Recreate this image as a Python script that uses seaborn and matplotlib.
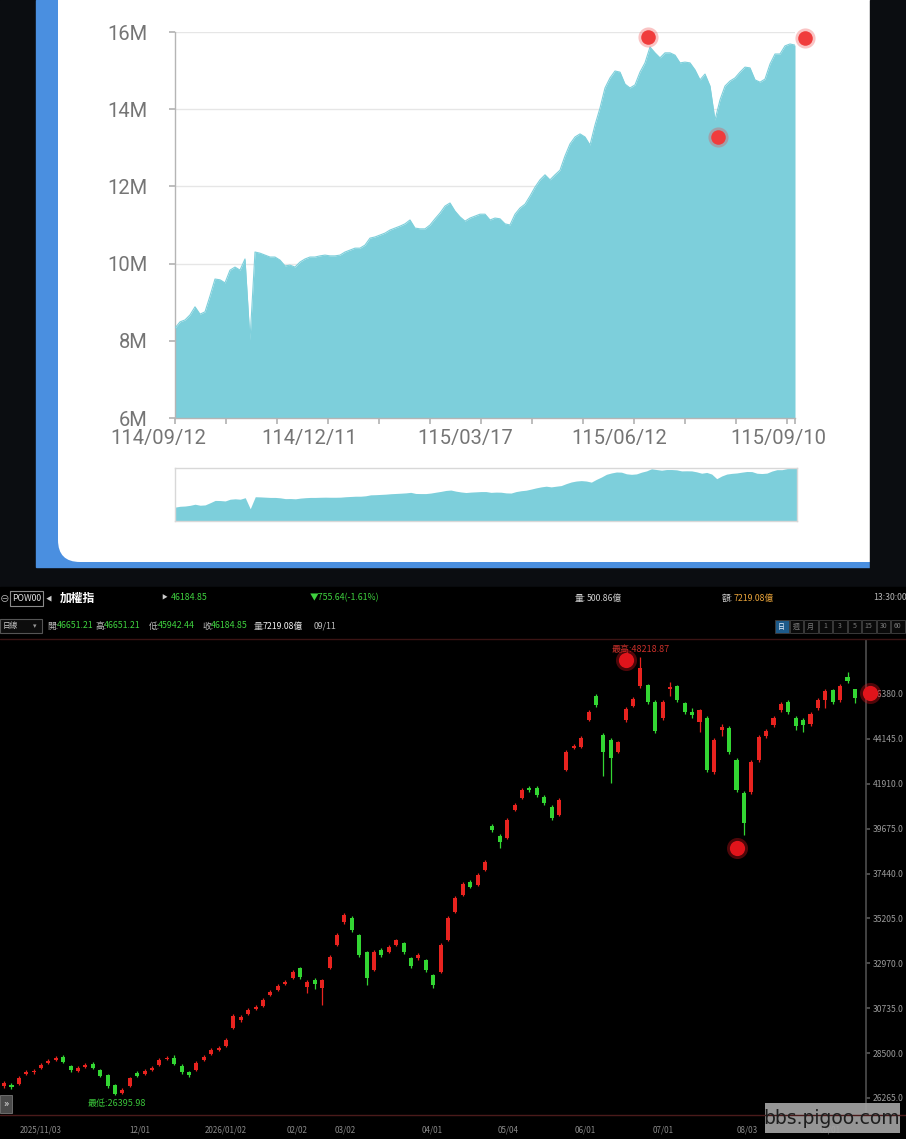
import matplotlib
matplotlib.use('Agg')
import matplotlib.pyplot as plt
from matplotlib.patches import Rectangle, FancyBboxPatch
import numpy as np
import seaborn as sns

W, H = 906, 1139

# ---- 上半部：資產走勢 (M) ----
asset_m = [8.33, 8.49, 8.54, 8.67, 8.88, 8.69, 8.75, 9.16, 9.60, 9.58,
           9.50, 9.83, 9.91, 9.83, 10.12, 8.02, 10.30, 10.27, 10.22, 10.17,
           10.17, 10.09, 9.94, 9.96, 9.91, 10.04, 10.12, 10.17, 10.17, 10.20,
           10.22, 10.20, 10.20, 10.22, 10.30, 10.35, 10.40, 10.40, 10.48, 10.66,
           10.69, 10.74, 10.79, 10.87, 10.92, 10.97, 11.03, 11.13, 10.92, 10.90,
           10.90, 11.00, 11.16, 11.31, 11.49, 11.57, 11.36, 11.21, 11.10, 11.18,
           11.23, 11.28, 11.28, 11.13, 11.18, 11.16, 11.03, 11.00, 11.28, 11.44,
           11.54, 11.75, 11.98, 12.17, 12.30, 12.17, 12.30, 12.42, 12.79, 13.10,
           13.28, 13.36, 13.28, 13.07, 13.59, 14.03, 14.55, 14.81, 14.99, 14.96,
           14.65, 14.55, 14.63, 14.96, 15.20, 15.61, 15.46, 15.33, 15.46, 15.46,
           15.40, 15.20, 15.22, 15.20, 15.02, 14.76, 14.91, 14.60, 13.72, 14.24,
           14.60, 14.73, 14.81, 14.96, 15.09, 15.07, 14.76, 14.70, 14.78, 15.17,
           15.43, 15.43, 15.64, 15.69, 15.66]
asset_dates = ['114/09/12', '114/12/11', '115/03/17', '115/06/12', '115/09/10']
asset_mark_idx = [94.6, 126.0, 108.6]
asset_mark_val = [15.87, 15.84, 13.28]

# ---- 下半部：加權指 日K ----
k_open = [26858, 26908, 26958, 27456, 27555, 27755, 28004, 28153, 28302, 27854,
          27605, 27804, 27954, 27655, 27406, 26908, 26510, 26858, 27506, 27456,
          27655, 27904, 28203, 28253, 27854, 27555, 27655, 28153, 28452, 28651,
          28850, 29747, 30145, 30444, 30693, 30842, 31390, 31639, 31938, 32237,
          32735, 31788, 32137, 31739, 32735, 33880, 35025, 35225, 34378, 33531,
          32635, 33631, 33531, 33880, 33980, 33233, 33233, 33133, 32386, 32535,
          34129, 35523, 36370, 37017, 36868, 37615, 39806, 39308, 39209, 40603,
          41201, 41699, 41699, 41250, 40752, 40354, 42595, 43691, 43740, 45085,
          46280, 44338, 44089, 43491, 45085, 45782, 46778, 46828, 45981, 45185,
          46629, 46778, 45932, 45483, 44985, 45185, 42495, 44587, 44687, 43093,
          41450, 41499, 43093, 44288, 44836, 45583, 45981, 45185, 45085, 44886,
          45683, 46081, 46579, 46081, 47226, 46651]
k_close = [27008, 26808, 27257, 27555, 27605, 27904, 28103, 28253, 28053, 27655,
           27755, 27904, 27755, 27356, 26858, 26460, 26659, 27257, 27356, 27605,
           27755, 28153, 28253, 27954, 27555, 27406, 28004, 28302, 28651, 28751,
           29149, 30344, 30294, 30643, 30792, 31141, 31539, 31838, 32037, 32535,
           32286, 32037, 31938, 32137, 33282, 34378, 35374, 34627, 33382, 32237,
           33531, 33382, 33780, 34129, 33531, 32834, 33382, 32635, 31888, 33880,
           35225, 36221, 36918, 36768, 37366, 38013, 39607, 39009, 40105, 40852,
           41599, 41599, 41350, 40952, 40205, 41101, 43491, 43790, 44189, 45483,
           45832, 43491, 43193, 43989, 45633, 46131, 47675, 45981, 44537, 45981,
           46728, 46081, 45483, 45334, 45583, 42595, 44089, 44736, 43491, 41599,
           39956, 42993, 44238, 44537, 45185, 45882, 45483, 44786, 44836, 45384,
           46081, 46529, 45981, 46778, 47027, 46185]
k_high = [27100, 27000, 27380, 27640, 27700, 27980, 28200, 28330, 28380, 27920,
          27830, 28000, 28050, 27720, 27480, 26980, 26750, 27320, 27600, 27700,
          27830, 28230, 28350, 28400, 27950, 27620, 28080, 28380, 28730, 28850,
          29230, 30420, 30400, 30720, 30880, 31220, 31620, 31920, 32130, 32620,
          32800, 32120, 32220, 32200, 33360, 34460, 35450, 35300, 34450, 33600,
          33620, 33720, 33860, 34200, 34050, 33300, 33460, 33200, 32450, 33960,
          35300, 36300, 37000, 37100, 37450, 38100, 39900, 39400, 40200, 40950,
          41680, 41800, 41780, 41330, 40830, 41200, 43580, 43880, 44280, 45560,
          46380, 44420, 44180, 44060, 45720, 46230, 48219, 46900, 46060, 46060,
          47000, 46850, 46000, 45700, 45650, 45280, 44180, 44900, 44780, 43180,
          41530, 43080, 44320, 44620, 45270, 45960, 46060, 45260, 45170, 45470,
          46160, 46610, 46650, 46860, 47500, 46651]
k_low = [26760, 26700, 26900, 27400, 27480, 27700, 27950, 28100, 28000, 27560,
         27540, 27750, 27700, 27300, 26780, 26396, 26450, 26800, 27300, 27400,
         27600, 27850, 28150, 27900, 27480, 27300, 27600, 28100, 28400, 28600,
         28800, 29700, 30050, 30380, 30630, 30790, 31330, 31580, 31880, 32180,
         32200, 31500, 31700, 30900, 32680, 33820, 34950, 34550, 33300, 31900,
         32580, 33300, 33470, 33820, 33450, 32750, 33150, 32550, 31750, 32480,
         34080, 35470, 36300, 36700, 36800, 37550, 39500, 38700, 39150, 40550,
         41150, 41500, 41270, 40870, 40100, 40300, 42550, 43620, 43680, 45020,
         45750, 42300, 41950, 43420, 45000, 45720, 46700, 45880, 44450, 45100,
         46300, 45980, 45380, 45200, 44500, 42500, 42400, 44300, 43400, 41500,
         39350, 41400, 43000, 44200, 44750, 45500, 45400, 44600, 44500, 44800,
         45600, 45700, 45900, 46000, 46950, 45942]
k_date_labels = ['2025/11/03', '12/01', '2026/01/02', '02/02', '03/02', '04/01',
                 '05/04', '06/01', '07/01', '08/03', '09/01']
k_date_idx = [4.9, 18.4, 29.9, 39.6, 46.1, 57.8, 68.1, 78.5, 89.1, 100.5, 111.6]
k_price_ticks = [26265, 28500, 30735, 32970, 35205, 37440, 39675, 41910, 44145, 46380]
k_mark_idx = [84.05, 99.05, 117.0]
k_mark_val = [48074, 38711, 46430]

sns.set_theme(style='white')
plt.rcParams['font.family'] = ['Roboto', 'Noto Sans CJK TC', 'DejaVu Sans']
CJK = ['Noto Sans CJK TC', 'DejaVu Sans']

fig = plt.figure(figsize=(W / 100, H / 100), dpi=100)
fig.patch.set_facecolor('black')


def px_axes(x0, y0, x1, y1):
    return fig.add_axes([x0 / W, 1 - y1 / H, (x1 - x0) / W, (y1 - y0) / H])


# 背景
bg = px_axes(0, 0, W, H)
bg.set_xlim(0, W)
bg.set_ylim(H, 0)
bg.axis('off')
bg.add_patch(Rectangle((0, 0), W, 587, color='#0b0d11'))
bg.add_patch(Rectangle((36, 0), 834, 567, color='#4a8fe0'))
bg.add_patch(FancyBboxPatch((58, -40), 860, 602, boxstyle='round,pad=0,rounding_size=22',
                            fc='white', ec='none'))
bg.add_patch(Rectangle((870, 0), 36, 587, color='#0b0d11'))
bg.add_patch(Rectangle((0, 587), W, H - 587, color='black'))

# ---- 上方面積圖 ----
teal = '#7dcfdb'
x = np.arange(len(asset_m))
ax1 = px_axes(175, 32, 795, 418)
ax1.set_facecolor('none')
ax1.fill_between(x, 6, asset_m, color=teal, lw=0, zorder=2)
sns.lineplot(x=x, y=asset_m, ax=ax1, color=teal, lw=0.8, zorder=3)
ax1.set_xlim(0, len(asset_m) - 1)
ax1.set_ylim(6, 16)
ax1.set_yticks([6, 8, 10, 12, 14, 16])
ax1.set_yticklabels([f'{v}M' for v in [6, 8, 10, 12, 14, 16]])
ax1.yaxis.grid(True, color='#e6e6e6', lw=1, zorder=0)
ax1.set_axisbelow(True)
for s in ['top', 'right']:
    ax1.spines[s].set_visible(False)
for s in ['left', 'bottom']:
    ax1.spines[s].set_color('#b5b5b5')
    ax1.spines[s].set_linewidth(1)
ax1.tick_params(axis='y', left=True, length=4, color='#b5b5b5', pad=16,
                labelsize=14.5, labelcolor='#757575')
ax1.set_xticks(list(np.arange(0, len(asset_m), 10.2)) + [len(asset_m) - 1])
ax1.set_xticklabels([])
ax1.tick_params(axis='x', bottom=True, length=4, color='#b5b5b5')
for pos, lab in zip([-3.4, 26.8, 58, 88.8, 120.6], asset_dates):
    ax1.annotate(lab, xy=(pos, 0), xycoords=('data', 'axes fraction'),
                 xytext=(0, -8), textcoords='offset points', ha='center', va='top',
                 fontsize=14.5, color='#757575', annotation_clip=False)
ax1.scatter(asset_mark_idx, asset_mark_val, s=210, color='#f03c3c', alpha=0.3,
            lw=0, clip_on=False, zorder=5)
ax1.scatter(asset_mark_idx, asset_mark_val, s=110, color='#f03c3c', lw=0,
            clip_on=False, zorder=6)

# 縮放條
ax2 = px_axes(175, 468, 797, 521)
ax2.set_facecolor('white')
ax2.fill_between(x, 0, asset_m, color=teal, lw=0)
ax2.set_xlim(0, len(asset_m) - 1)
ax2.set_ylim(5.7, 15.75)
ax2.set_xticks([])
ax2.set_yticks([])
for s in ax2.spines.values():
    s.set_color('#d8d8d8')
    s.set_linewidth(1)

# ---- 下方K線圖 ----
red, green = '#e8231f', '#33d633'
idx = np.arange(len(k_close))
o = np.array(k_open)
c = np.array(k_close)
cols = [red if cc >= oo else green for oo, cc in zip(o, c)]
body_lo = np.minimum(o, c)
body_h = np.maximum(np.abs(c - o), 45)

ax3 = px_axes(0, 640, 866, 1115)
ax3.set_facecolor('black')
ax3.vlines(idx, k_low, k_high, colors=cols, lw=0.9, zorder=2)
ax3.bar(idx, body_h, bottom=body_lo, width=0.55, color=cols, lw=0, zorder=3)
ax3.set_xlim(-0.55, 116.5)
ax3.set_ylim(25414, 49069)
for s in ['top', 'left', 'bottom']:
    ax3.spines[s].set_visible(False)
ax3.spines['right'].set_color('#4a4a4a')
ax3.yaxis.tick_right()
ax3.set_yticks(k_price_ticks)
ax3.set_yticklabels([f'{v:.1f}' for v in k_price_ticks], family=CJK)
ax3.tick_params(axis='y', right=True, length=3, color='#555555', pad=2,
                labelsize=6.2, labelcolor='#9a9a9a')
ax3.set_xticks(k_date_idx)
ax3.set_xticklabels(k_date_labels, family=CJK)
ax3.tick_params(axis='x', bottom=False, pad=1.5, labelsize=5.8, labelcolor='#8a8a8a')
ax3.scatter(k_mark_idx, k_mark_val, s=230, color='#e0141b', alpha=0.35, lw=0,
            clip_on=False, zorder=6)
ax3.scatter(k_mark_idx, k_mark_val, s=120, color='#e0141b', lw=0,
            clip_on=False, zorder=7)
ax3.annotate('最高:48218.87', xy=(86, 48219), xytext=(0, 2), textcoords='offset points',
             ha='center', va='bottom', fontsize=6.5, color='#c8302a', family=CJK)
ax3.annotate('最低:26395.98', xy=(15.2, 26396), xytext=(0, -3), textcoords='offset points',
             ha='center', va='top', fontsize=6.5, color='#3ac43a', family=CJK)

# ---- 表頭與覆蓋層 ----
ov = px_axes(0, 0, W, H)
ov.set_xlim(0, W)
ov.set_ylim(H, 0)
ov.axis('off')
ov.patch.set_alpha(0)


def t(xp, yp, s, color='#cfcfcf', size=6.5, **kw):
    ov.text(xp, yp, s, color=color, fontsize=size, va='center', ha='left',
            family=CJK, **kw)


ov.plot([0, W], [639, 639], color='#3a1414', lw=1)
ov.plot([0, W], [1115, 1115], color='#4a1a1a', lw=1)

gr = '#3fd23f'
t(0, 598, '⊖', '#bbbbbb', 7)
ov.add_patch(Rectangle((10, 591), 33, 15, fc='none', ec='#8a8a8a', lw=0.8))
t(12, 598.5, 'POW00', '#e0e0e0', 6.3)
t(46, 598, '◀', '#cccccc', 4.5)
t(60, 598, '加權指', 'white', 8.5, weight='bold')
t(161, 598, '▶', '#cccccc', 4.2)
t(171, 598, '46184.85', gr, 6.3)
t(310, 598, '▼755.64(-1.61%)', gr, 6.3)
t(575, 598, '量:', '#cfcfcf', 6.3)
t(587, 598, '500.86億', '#cfcfcf', 6.3)
t(722, 598, '額:', '#cfcfcf', 6.3)
t(734, 598, '7219.08億', '#e8a33a', 6.3)
t(873, 598, '13:30:00', '#b5b5b5', 6.3)

ov.add_patch(Rectangle((0, 619), 42, 14, fc='#0d0d0d', ec='#555555', lw=0.8))
t(3, 626, '日線', '#cccccc', 5.5)
t(33, 626, '▾', '#999999', 5)
row2 = [('開:', 47, '#bdbdbd'), ('46651.21', 57, gr), ('高:', 95, '#bdbdbd'),
        ('46651.21', 104, gr), ('低:', 149, '#bdbdbd'), ('45942.44', 158, gr),
        ('收:', 202, '#bdbdbd'), ('46184.85', 211, gr), ('量:', 254, '#bdbdbd'),
        ('7219.08億', 263, '#f0f0f0'), ('09/11', 314, '#bdbdbd')]
for s, xp, col in row2:
    t(xp, 626, s, col, 6.3)
for k, lab in enumerate(['日', '週', '月', '1', '3', '5', '15', '30', '60']):
    x0 = 775 + k * 14.5
    fc = '#1d5a8a' if k == 0 else '#0a0a0a'
    ov.add_patch(Rectangle((x0, 620), 13.5, 13, fc=fc, ec='#3a3a3a', lw=0.7))
    ov.text(x0 + 6.75, 626.5, lab, color='#e6f0ff' if k == 0 else '#7a7a7a',
            fontsize=5, ha='center', va='center', family=CJK)

ov.add_patch(Rectangle((0, 1095), 12, 18, fc='#4a4a4a', ec='#777777', lw=0.6))
ov.text(6, 1104, '»', color='#dddddd', fontsize=8, ha='center', va='center')

ov.add_patch(Rectangle((765, 1103), 135, 30, fc='#a3a3a3', ec='none', alpha=0.92))
ov.text(832, 1118, 'bbs.pigoo.com', color='#1e1e1e', fontsize=13.5,
        ha='center', va='center', family=['DejaVu Sans'])

fig.savefig('out.png', dpi=100, facecolor=fig.get_facecolor())
